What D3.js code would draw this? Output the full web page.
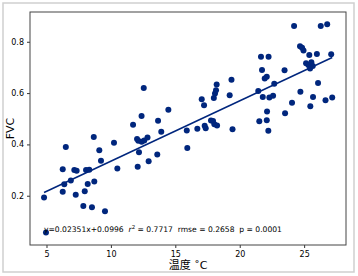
<!DOCTYPE html>
<html>
<head>
<meta charset="utf-8">
<script src="https://cdn.jsdelivr.net/npm/d3@7"></script>
<style>
  body { margin: 0; background: #fff; }
  svg text { font-family: "DejaVu Sans", sans-serif; }
</style>
</head>
<body>
<div id="chart"></div>
<script>
// temperature (x) and FVC (y)
const temps = [4.81, 4.96, 6.26, 6.50, 6.26, 6.38, 6.89, 7.16, 7.34, 7.27,
  7.86, 7.97, 8.07, 8.32, 8.20, 8.53, 8.71, 8.67, 9.10, 9.23,
  9.54, 10.24, 10.50, 11.72, 12.03, 12.13, 12.18, 12.08, 12.38, 12.39,
  12.59, 12.84, 12.93, 13.60, 13.91, 12.55, 13.66, 14.46, 15.89, 15.93,
  16.71, 17.28, 17.36, 17.05, 17.23, 17.77, 17.93, 18.03, 18.24, 17.99,
  18.08, 18.16, 18.21, 19.22, 19.36, 19.44, 21.44, 21.52, 21.65, 21.73,
  21.79, 21.94, 22.10, 22.12, 22.10, 22.22, 22.24, 22.30, 22.59, 22.68,
  23.48, 23.52, 24.06, 24.22, 24.68, 24.84, 24.95, 24.71, 25.15, 25.33,
  25.56, 25.67, 25.46, 25.40, 25.48, 25.69, 25.99, 26.08, 26.29, 26.66,
  26.79, 27.10, 27.18];
const fvc = [0.193, 0.057, 0.303, 0.390, 0.216, 0.245, 0.259, 0.300, 0.297, 0.204,
  0.160, 0.217, 0.300, 0.301, 0.246, 0.155, 0.255, 0.429, 0.377, 0.336,
  0.140, 0.406, 0.306, 0.477, 0.421, 0.414, 0.369, 0.313, 0.511, 0.410,
  0.415, 0.427, 0.334, 0.361, 0.449, 0.620, 0.492, 0.535, 0.454, 0.386,
  0.461, 0.473, 0.463, 0.576, 0.553, 0.493, 0.491, 0.479, 0.474, 0.581,
  0.598, 0.611, 0.633, 0.592, 0.652, 0.459, 0.608, 0.490, 0.742, 0.690,
  0.585, 0.657, 0.664, 0.528, 0.494, 0.453, 0.742, 0.583, 0.590, 0.636,
  0.689, 0.521, 0.562, 0.861, 0.783, 0.777, 0.766, 0.605, 0.716, 0.709,
  0.720, 0.706, 0.696, 0.748, 0.549, 0.585, 0.752, 0.639, 0.861, 0.572,
  0.868, 0.751, 0.583];

// fitted line, as printed on the chart
const slope = 0.02351;
const intercept = 0.0996;
const xTicks = [5, 10, 15, 20, 25];
const yTicks = [0.2, 0.4, 0.6, 0.8];

const width = 358;
const height = 276;
const margin = {top: 12, right: 12, bottom: 31, left: 30};
const navy = "#00267d";

const svg = d3.select("#chart")
  .append("svg")
  .attr("width", width)
  .attr("height", height);

// light outer frame
svg.append("rect")
  .attr("x", 3).attr("y", 3)
  .attr("width", 351).attr("height", 269)
  .attr("fill", "#fff")
  .attr("stroke", "#cfcfcf")
  .attr("stroke-width", 1.5);

const x = d3.scaleLinear()
  .domain([3.72, 28.25])
  .range([margin.left, width - margin.right]);

const y = d3.scaleLinear()
  .domain([0.008, 0.916])
  .range([height - margin.bottom, margin.top]);

// axes
const xAxis = svg.append("g")
  .attr("transform", `translate(0,${height - margin.bottom})`)
  .call(d3.axisBottom(x).tickValues(xTicks).tickSize(3).tickPadding(3).tickFormat(d3.format("d")));

const yAxis = svg.append("g")
  .attr("transform", `translate(${margin.left},0)`)
  .call(d3.axisLeft(y).tickValues(yTicks).tickSize(3).tickPadding(3).tickFormat(d3.format(".1f")));

[xAxis, yAxis].forEach(g => {
  g.select(".domain").remove();
  g.selectAll("line").attr("stroke", "#333");
  g.selectAll("text").attr("font-size", 8).attr("fill", "#000")
    .style("font-family", "DejaVu Sans, sans-serif");
});

// plot box
svg.append("rect")
  .attr("x", margin.left).attr("y", margin.top)
  .attr("width", width - margin.left - margin.right)
  .attr("height", height - margin.top - margin.bottom)
  .attr("fill", "none")
  .attr("stroke", "#444")
  .attr("stroke-width", 1);

// points
const pts = temps.map((t, i) => ({t: t, v: fvc[i]}));
svg.append("g")
  .selectAll("circle")
  .data(pts)
  .join("circle")
  .attr("cx", d => x(d.t))
  .attr("cy", d => y(d.v))
  .attr("r", 3)
  .attr("fill", navy);

// regression line over the data range
const xr = d3.extent(temps);
svg.append("line")
  .attr("x1", x(xr[0])).attr("y1", y(slope * xr[0] + intercept))
  .attr("x2", x(xr[1])).attr("y2", y(slope * xr[1] + intercept))
  .attr("stroke", navy)
  .attr("stroke-width", 1.5);

// equation / stats text
const stats = svg.append("text")
  .attr("x", 44)
  .attr("y", 232)
  .attr("font-size", 7.6)
  .attr("fill", "#000")
  .style("white-space", "pre");
stats.append("tspan").text("y=0.02351x+0.0996  ");
stats.append("tspan").attr("font-style", "italic").text("r");
stats.append("tspan").attr("dy", -3).attr("font-size", 5.5).text("2");
stats.append("tspan").attr("dy", 3).text(" = 0.7717  rmse = 0.2658  p = 0.0001");

// axis titles
svg.append("text")
  .attr("x", (margin.left + width - margin.right) / 2)
  .attr("y", 269)
  .attr("text-anchor", "middle")
  .attr("font-size", 11)
  .style("font-family", "DejaVu Sans, 'Noto Sans CJK SC', sans-serif")
  .text("温度 ˚C");

svg.append("text")
  .attr("transform", `translate(14,${(margin.top + height - margin.bottom) / 2}) rotate(-90)`)
  .attr("text-anchor", "middle")
  .attr("font-size", 11)
  .text("FVC");
</script>
</body>
</html>
